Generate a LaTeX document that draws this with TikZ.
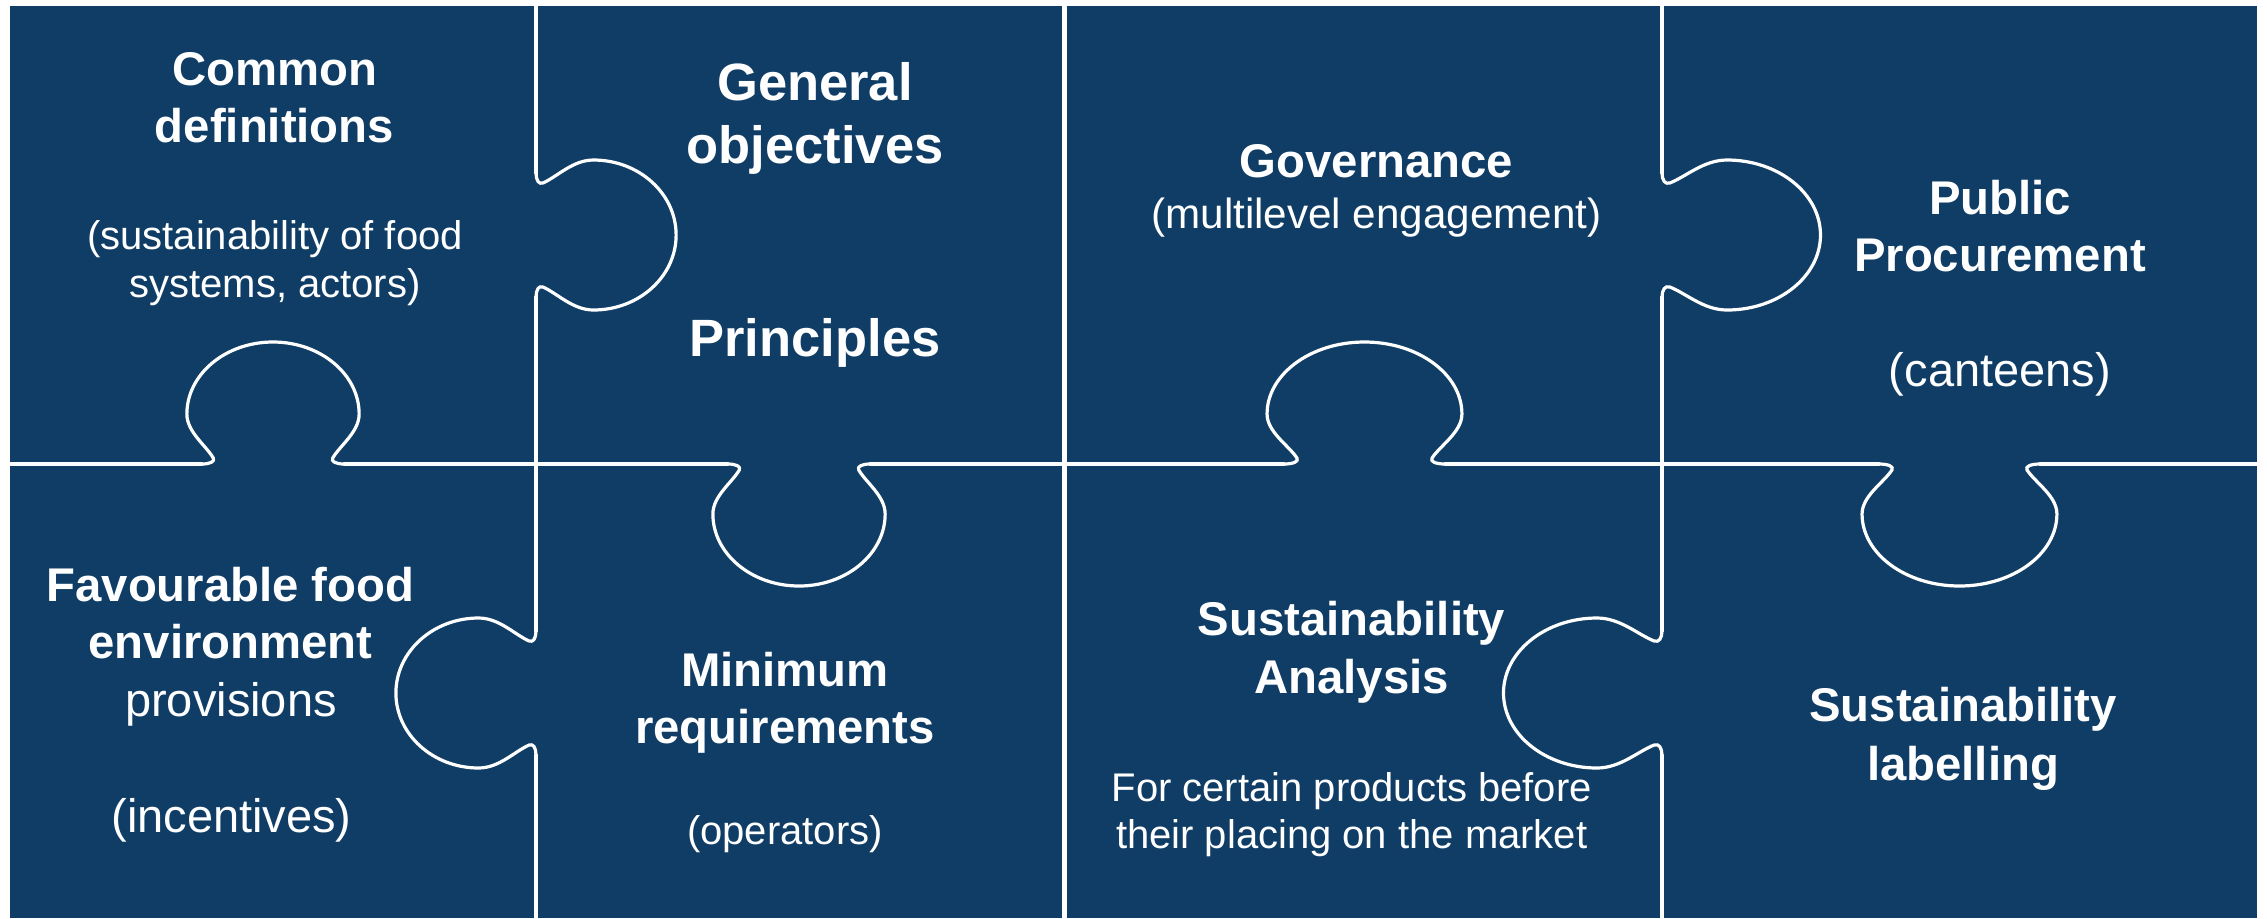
\documentclass[tikz,border=0pt]{standalone}
\usepackage{fontspec}
\setmainfont{Liberation Sans}
\definecolor{pzblue}{RGB}{16,61,101}
\newcommand\tabshape{(0,-62) .. controls (0,-55) and (2.4,-50.2) .. (6,-52) .. controls (18.5,-58.3) and (32,-75) .. (50,-75) .. controls (89.7,-75) and (122,-41.4) .. (122,0) .. controls (122,41.4) and (89.7,75) .. (50,75) .. controls (32,75) and (18.5,58.3) .. (6,52) .. controls (2.4,50.2) and (0,55) .. (0,62)}
\newcommand\puzzlegrid{%
  \draw[wl] (458,0) -- (458,167);
  \begin{scope}[shift={(458,229)}] \draw[wl] \tabshape; \end{scope}
  \draw[wl] (458,291) -- (458,625);
  \begin{scope}[shift={(458,687)}, rotate=180] \draw[wl] \tabshape; \end{scope}
  \draw[wl] (458,749) -- (458,912);
  \draw[wl] (0,458) -- (167,458);
  \begin{scope}[shift={(229,458)}, rotate=90] \draw[wl] \tabshape; \end{scope}
  \draw[wl] (291,458) -- (625,458);
  \begin{scope}[shift={(687,458)}, rotate=-90] \draw[wl] \tabshape; \end{scope}
  \draw[wl] (749,458) -- (916,458);
}
\begin{document}
\begin{tikzpicture}[x=0.5pt,y=-0.5pt,
  wl/.style={draw=white, line width=1.6pt, line cap=round, line join=round},
  lbl/.style={text=white, inner sep=0pt, anchor=base},
  bh/.style={lbl, font=\fontsize{23.65pt}{28pt}\selectfont\bfseries},
  bg/.style={lbl, font=\fontsize{26.25pt}{31pt}\selectfont\bfseries},
  rs/.style={lbl, font=\fontsize{20pt}{24pt}\selectfont},
  rm/.style={lbl, font=\fontsize{21.1pt}{25pt}\selectfont},
  rl/.style={lbl, font=\fontsize{23.5pt}{28pt}\selectfont}]
\useasboundingbox (0,0) rectangle (2267,918);
\fill[white] (0,0) rectangle (2267,918);
\fill[pzblue] (10,6) rectangle (1062,918);
\fill[pzblue] (1067,6) rectangle (2257,918);
\begin{scope}[shift={(10,6)}, xscale=1.1485]
  \puzzlegrid
\end{scope}
\begin{scope}[shift={(1067,6)}, xscale=1.2991]
  \puzzlegrid
\end{scope}
% left half texts
\node[bh] (cd1) at (274.5,85) {Common};
\node[bh] (cd2) at (274.5,142.7) {definitions};
\node[rs] (cd3) at (275,249) {(sustainability of food};
\node[rs] (cd4) at (275,297) {systems, actors)};
\node[bg] (go1) at (815,100) {General};
\node[bg] (go2) at (815,163) {objectives};
\node[bg] (pr1) at (815,356) {Principles};
\node[bh] (ff1) at (230.5,601) {Favourable food};
\node[bh] (ff2) at (230.5,658.3) {environment};
\node[rl] (ff3) at (231,716) {provisions};
\node[rl] (ff4) at (231.5,832) {(incentives)};
\node[bh] (mr1) at (785,686.7) {Minimum};
\node[bh] (mr2) at (785,743.3) {requirements};
\node[rs] (mr3) at (785,844) {(operators)};
% right half texts
\node[bh] (gv1) at (1376.5,177.7) {Governance};
\node[rm] (gv2) at (1376.5,228.3) {(multilevel engagement)};
\node[bh] (pp1) at (2000,214) {Public};
\node[bh] (pp2) at (2000,271.7) {Procurement};
\node[rl] (pp3) at (2000,386.7) {(canteens)};
\node[bh] (sa1) at (1351.5,635) {Sustainability};
\node[bh] (sa2) at (1351.5,693.3) {Analysis};
\node[rs] (sa3) at (1351.7,801.7) {For certain products before};
\node[rs] (sa4) at (1351.7,848.3) {their placing on the market};
\node[bh] (sl1) at (1963,721.7) {Sustainability};
\node[bh] (sl2) at (1963,780) {labelling};
\end{tikzpicture}
\end{document}
